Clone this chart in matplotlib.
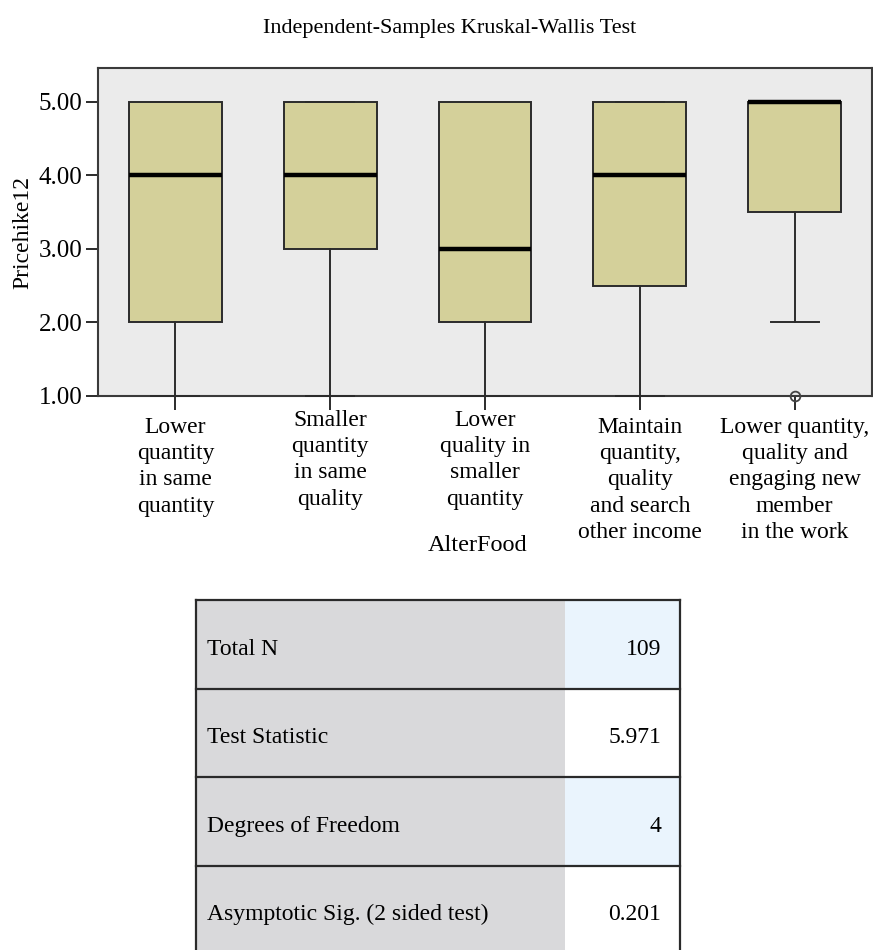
import matplotlib
matplotlib.use("Agg")
import matplotlib.pyplot as plt
from matplotlib.patches import Rectangle
from matplotlib.transforms import ScaledTranslation

plt.rcParams['font.family'] = ['Liberation Serif', 'DejaVu Serif']

# Box-plot summary per group
categories = [
    "Lower\nquantity\nin same\nquantity",
    "Smaller\nquantity\nin same\nquality",
    "Lower\nquality in\nsmaller\nquantity",
    "Maintain\nquantity,\nquality\nand search\nother income",
    "Lower quantity,\nquality and\nengaging new\nmember\nin the work",
]
whisker_low = [1.0, 1.0, 1.0, 1.0, 2.0]
q1 = [2.0, 3.0, 2.0, 2.5, 3.5]
median = [4.0, 4.0, 3.0, 4.0, 5.0]
q3 = [5.0, 5.0, 5.0, 5.0, 5.0]
whisker_high = [5.0, 5.0, 5.0, 5.0, 5.0]
outliers = [[], [], [], [], [1.0]]

y_ticks = [1.0, 2.0, 3.0, 4.0, 5.0]

# Test summary table
table_labels = ["Total N", "Test Statistic", "Degrees of Freedom",
                "Asymptotic Sig. (2 sided test)"]
table_values = ["109", "5.971", "4", "0.201"]

W, H = 873, 950
fig = plt.figure(figsize=(W / 100, H / 100), dpi=100)
fig.patch.set_facecolor("white")

ax = fig.add_axes([98 / W, 1 - 396 / H, 774 / W, 328 / H])
ax.set_facecolor("#ebebeb")

stats = []
for i in range(len(categories)):
    stats.append(dict(whislo=whisker_low[i], q1=q1[i], med=median[i],
                      q3=q3[i], whishi=whisker_high[i], fliers=outliers[i]))

positions = list(range(1, len(categories) + 1))
ax.bxp(stats, positions=positions, widths=0.6, patch_artist=True,
       showfliers=True,
       boxprops=dict(facecolor="#d4d09a", edgecolor="#2b2b2b", linewidth=1.4),
       medianprops=dict(color="black", linewidth=3.2, solid_capstyle="butt"),
       whiskerprops=dict(color="#2b2b2b", linewidth=1.4),
       capprops=dict(color="#2b2b2b", linewidth=1.4),
       capwidths=0.31,
       flierprops=dict(marker="o", markersize=7, markerfacecolor="none",
                       markeredgecolor="#444444", markeredgewidth=1.3),
       zorder=3)

for line in ax.lines:
    line.set_clip_on(False)

ax.set_xlim(0.5, 5.5)
ax.set_ylim(1.0, 5.46)
ax.set_yticks(y_ticks)
ax.set_yticklabels([f"{v:.2f}" for v in y_ticks], fontsize=18)
ax.set_xticks(positions)
ax.set_xticklabels(categories, fontsize=17, linespacing=1.33)
ax.tick_params(axis="x", length=10, width=1.4, color="#2b2b2b", pad=5)
ax.tick_params(axis="y", length=9, width=1.4, color="#2b2b2b", pad=2)
for s in ax.spines.values():
    s.set_color("#3a3a3a")
    s.set_linewidth(1.5)

# the two middle four-line labels sit a little higher
for k in (1, 2):
    lbl = ax.get_xticklabels()[k]
    lbl.set_transform(lbl.get_transform() +
                      ScaledTranslation(0, 7 / 100, fig.dpi_scale_trans))

ax.set_xlabel("AlterFood", fontsize=17.5)
ax.xaxis.set_label_coords(0.49, -0.425)
ax.set_ylabel("Pricehike12", fontsize=17)
ax.yaxis.set_label_coords(-0.083, 0.497)

fig.text(450 / W, 1 - 28 / H, "Independent-Samples Kruskal-Wallis Test",
         ha="center", va="center", fontsize=16)

# Summary table drawn in pixel coordinates
tax = fig.add_axes([0, 0, 1, 1])
tax.set_xlim(0, W)
tax.set_ylim(H, 0)
tax.axis("off")

left, split, right = 196, 565, 680
top, row_h = 600, 88.5
for i, (lab, val) in enumerate(zip(table_labels, table_values)):
    y0 = top + i * row_h
    tax.add_patch(Rectangle((left, y0), split - left, row_h,
                            facecolor="#d9d9db", edgecolor="none"))
    tax.add_patch(Rectangle((split, y0), right - split, row_h,
                            facecolor="#eaf4fd" if i % 2 == 0 else "white",
                            edgecolor="none"))
    tax.plot([left, right], [y0, y0], color="#2a2a2a", lw=1.6)
    tax.text(left + 11, y0 + row_h / 2 + 5, lab, ha="left", va="center",
             fontsize=17)
    tax.text(right - 19, y0 + row_h / 2 + 5, val, ha="right", va="center",
             fontsize=17)
bottom = top + len(table_labels) * row_h + 5
tax.plot([left, left], [top, bottom], color="#2a2a2a", lw=1.6)
tax.plot([right, right], [top, bottom], color="#2a2a2a", lw=1.6)

fig.savefig("out.png", dpi=100)
